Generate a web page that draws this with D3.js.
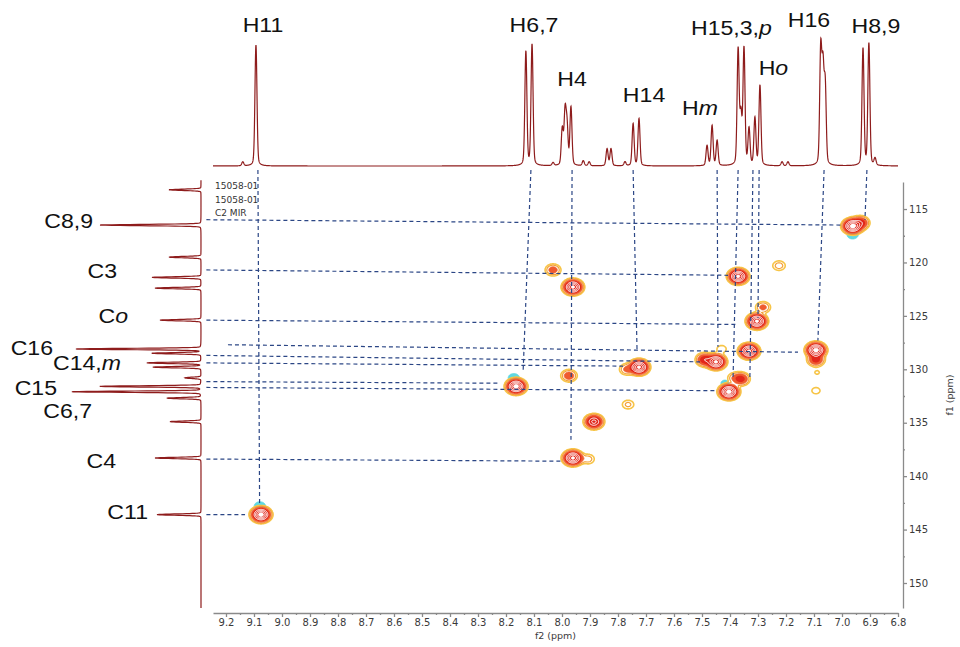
<!DOCTYPE html>
<html>
<head>
<meta charset="utf-8">
<script src="https://cdn.jsdelivr.net/npm/d3@7"></script>
<style>
    body { margin: 0; background: white; }
</style>
</head>
<body>
<svg id="chart" width="960" height="647"></svg>
<script>
// 1H 谱峰 [ppm, 高度]
const protonPeaks = [
    [9.140, 4], [9.093, 121],
    [8.129, 114], [8.107, 121], [8.032, 3],
    [7.999, 36], [7.989, 52], [7.982, 38], [7.968, 58],
    [7.924, 5], [7.903, 4], [7.839, 17], [7.825, 17], [7.775, 4],
    [7.746, 42], [7.725, 47],
    [7.482, 20], [7.464, 40], [7.446, 25],
    [7.371, 115], [7.361, 48], [7.350, 116], [7.332, 36], [7.311, 47], [7.293, 80],
    [7.214, 4], [7.193, 4],
    [7.076, 114], [7.068, 92], [7.060, 78],
    [6.925, 117], [6.904, 122], [6.882, 7]
];
// 13C 谱峰 [ppm, 高度]
const carbonPeaks = [
    [113.2, 32], [116.5, 101], [119.5, 32], [121.4, 49], [122.4, 46], [125.4, 41],
    [128.1, 125], [128.5, 49], [129.4, 54], [129.8, 48], [130.8, 16], [131.6, 101],
    [132.1, 129], [132.7, 34], [134.9, 31], [138.3, 46], [143.6, 44]
];
// HSQC 交叉峰 [f2 ppm, f1 ppm, 强度]
const crossPeaks = [
    [9.075, 143.6, 60], [6.962, 116.6, 60], [6.935, 116.3, 15],
    [7.961, 122.3, 55], [8.032, 120.7, 6], [7.371, 121.3, 55], [7.225, 120.3, 3],
    [7.282, 124.2, 5], [7.304, 125.5, 55], [7.332, 128.3, 55],
    [7.093, 128.2, 60], [7.093, 129.1, 12], [7.450, 129.3, 55], [7.490, 129.1, 15],
    [7.430, 128.1, 1.8], [7.725, 129.8, 55], [7.768, 130.0, 5], [7.975, 130.6, 7],
    [8.164, 131.6, 60], [7.361, 130.9, 12], [7.385, 130.8, 3], [7.404, 132.1, 60],
    [7.764, 133.3, 2.5], [7.886, 134.9, 30], [7.961, 138.3, 55], [7.907, 138.4, 3],
    [7.089, 130.3, 1.15], [7.093, 132.0, 1.6]
];
// 负相位小峰 (青色)
const phaseBlips = [
    [9.079, 142.8, 2.5], [6.962, 117.4, 2.5], [8.172, 130.8, 2.5], [7.418, 131.3, 1.6]
];
// 水平虚线 [左端 f1, 左端 f2, 右端 f1, 右端 f2]
const hGuides = [
    [116.0, 9.27, 116.5, 7.000], [120.7, 9.27, 121.2, 7.407], [125.4, 9.27, 125.8, 7.380],
    [127.7, 9.193, 128.4, 7.157], [128.7, 9.27, 129.3, 7.507], [129.4, 9.27, 129.7, 7.782],
    [131.15, 9.27, 131.3, 8.229], [131.7, 9.27, 132.0, 7.446], [138.4, 9.27, 138.6, 7.996],
    [143.6, 9.27, 143.6, 9.132]
];
// 垂直虚线 [顶端 f2, 底端 f2, 底端 f1]
const vGuides = [
    [9.086, 9.080, 142.7], [8.111, 8.139, 130.3], [7.964, 7.968, 136.6], [7.746, 7.732, 128.2],
    [7.446, 7.443, 127.9], [7.371, 7.389, 130.7], [7.318, 7.329, 130.8], [7.296, 7.300, 125.2],
    [7.064, 7.086, 127.3], [6.911, 6.918, 116.0]
];
// 标注: [文字 (* 之后为斜体), ppm, 高度]
const protonLabels = [
    ["H11", 9.068, 134], ["H6,7", 8.100, 134], ["H4", 7.964, 80], ["H14", 7.707, 64],
    ["H*m", 7.507, 51], ["H15,3,*p", 7.395, 131], ["H*o", 7.245, 91], ["H16", 7.118, 139],
    ["H8,9", 6.879, 133]
];
const carbonLabels = [
    ["C8,9", 116.78, 108], ["C3", 121.46, 84], ["C*o", 125.67, 73], ["C16", 128.66, 148],
    ["C14,*m", 130.07, 80], ["C15", 132.4, 144], ["C6,7", 134.56, 109], ["C4", 139.24, 85],
    ["C11", 144.0, 53]
];
const xTicks = [9.2, 9.1, 9.0, 8.9, 8.8, 8.7, 8.6, 8.5, 8.4, 8.3, 8.2, 8.1, 8.0, 7.9, 7.8,
    7.7, 7.6, 7.5, 7.4, 7.3, 7.2, 7.1, 7.0, 6.9, 6.8];
const yTicks = [115, 120, 125, 130, 135, 140, 145, 150];
const sampleInfo = ["15058-01", "15058-01", "C2 MIR"];

window.addEventListener("load", main);

function shape(d, sigma, gamma, frac)
{
    return (1 - frac) * Math.exp(-d * d / (2 * sigma * sigma)) + frac / (1 + (d / gamma) * (d / gamma));
}

function main()
{
    const svg = d3.select("svg#chart");
    const x = d3.scaleLinear().domain([9.2464, 6.8]).range([213, 898]);
    const y = d3.scaleLinear().domain([112.47, 152.34]).range([182, 608]);
    const yTop = d3.scaleLinear().domain([0, 128]).range([166, 38]);
    const xLeft = d3.scaleLinear().domain([0, 130]).range([201, 71]);
    const specColor = "#8e1c1c";
    const axisColor = "#8a8a8a";

    // 坐标轴
    svg.append("g").attr("transform", "translate(0,613)")
        .call(d3.axisBottom(x).tickValues(xTicks).tickSize(4).tickSizeOuter(0).tickPadding(2)
            .tickFormat(d3.format(".1f")));
    const xMinor = d3.pairs(xTicks).map(p => (p[0] + p[1]) / 2);
    svg.append("g").attr("transform", "translate(0,613)")
        .call(d3.axisBottom(x).tickValues(xMinor).tickSize(2).tickFormat(""))
        .select(".domain").remove();
    svg.append("g").attr("transform", "translate(903,0)")
        .call(d3.axisRight(y).tickValues(yTicks).tickSize(4).tickSizeOuter(0).tickPadding(2));
    const yMinor = d3.pairs(yTicks).map(p => (p[0] + p[1]) / 2);
    svg.append("g").attr("transform", "translate(903,0)")
        .call(d3.axisRight(y).tickValues(yMinor).tickSize(2).tickFormat(""))
        .select(".domain").remove();
    svg.selectAll(".domain, .tick line").attr("stroke", axisColor).attr("stroke-width", 1.3);
    svg.selectAll(".tick text").attr("fill", "#3a3a3a").attr("font-family", "DejaVu Sans")
        .attr("font-size", 10);

    svg.append("text").text("f2 (ppm)")
        .attr("x", d3.mean(x.range())).attr("y", 639)
        .attr("text-anchor", "middle").attr("font-family", "DejaVu Sans").attr("font-size", 9.5)
        .attr("fill", "#3a3a3a");
    svg.append("text").text("f1 (ppm)")
        .attr("transform", `translate(953,${d3.mean(y.range())}) rotate(-90)`)
        .attr("text-anchor", "middle").attr("font-family", "DejaVu Sans").attr("font-size", 9.5)
        .attr("fill", "#3a3a3a");

    // 顶部 1H 谱
    const hGrid = d3.range(x.domain()[0], 6.7995, -0.0005);
    const hData = hGrid.map(p => [p, d3.sum(protonPeaks, d => d[1] * shape(p - d[0], 0.0035, 0.006, 0.15))]);
    svg.append("path").datum(hData)
        .attr("d", d3.line().x(d => x(d[0])).y(d => yTop(d[1])))
        .attr("fill", "none").attr("stroke", specColor).attr("stroke-width", 1.2);

    // 左侧 13C 谱
    const cGrid = d3.range(112.3, y.domain()[1], 0.01);
    const cData = cGrid.map(c => [c, d3.sum(carbonPeaks, d => d[1] * shape(c - d[0], 0.06, 0.08, 0.06))]);
    svg.append("path").datum(cData)
        .attr("d", d3.line().x(d => xLeft(d[1])).y(d => y(d[0])))
        .attr("fill", "none").attr("stroke", specColor).attr("stroke-width", 1.2);

    // 二维等高线
    const gx0 = 206, gy0 = 182, nx = 694, ny = 428;
    const sigH = 0.015, sigC = 0.3;
    const hs = d3.range(nx).map(i => x.invert(gx0 + i + 0.5));
    const cs = d3.range(ny).map(j => y.invert(gy0 + j + 0.5));
    function grid(peaks)
    {
        const v = new Float64Array(nx * ny);
        peaks.forEach(([h, c, a]) => {
            for (let j = 0; j < ny; j++)
            {
                const dc = (cs[j] - c) / sigC;
                if (Math.abs(dc) > 5) continue;
                const ec = a * Math.exp(-dc * dc / 2);
                for (let i = 0; i < nx; i++)
                {
                    const dh = (hs[i] - h) / sigH;
                    if (Math.abs(dh) > 5) continue;
                    v[j * nx + i] += ec * Math.exp(-dh * dh / 2);
                }
            }
        });
        return v;
    }
    const plot = svg.append("g").attr("transform", `translate(${gx0},${gy0})`);
    const path = d3.geoPath();

    const neg = d3.contours().size([nx, ny]).thresholds([1])(grid(phaseBlips));
    plot.selectAll("path.neg").data(neg).join("path").attr("class", "neg")
        .attr("d", path).attr("fill", "#5fd8e2").attr("stroke", "#5fd8e2").attr("stroke-width", 0.8);

    const levels = [1, 2, 3.6, 8, 16, 26, 38, 50];
    const styles = [
        {fill: "none", stroke: "#f7c548", w: 1.6},
        {fill: "none", stroke: "#f4a23c", w: 1.2},
        {fill: "#ef5a30", stroke: "#ee6a36", w: 0.8},
        {fill: "#e2271b", stroke: "none", w: 0},
        {fill: "none", stroke: "#ffffff", w: 1},
        {fill: "none", stroke: "#ffffff", w: 1},
        {fill: "none", stroke: "#ffffff", w: 1},
        {fill: "#ffffff", stroke: "#ffffff", w: 0.8}
    ];
    const pos = d3.contours().size([nx, ny]).thresholds(levels)(grid(crossPeaks));
    plot.selectAll("path.pos").data(pos).join("path").attr("class", "pos")
        .attr("d", path)
        .attr("fill", (d, i) => styles[i].fill)
        .attr("stroke", (d, i) => styles[i].stroke)
        .attr("stroke-width", (d, i) => styles[i].w);

    // 虚线
    const guideColor = "#2b4685";
    const topY = yTop(0) + 4;
    svg.selectAll("line.vguide").data(vGuides).join("line").attr("class", "vguide")
        .attr("x1", d => x(d[0])).attr("y1", topY)
        .attr("x2", d => x(d[1])).attr("y2", d => y(d[2]))
        .attr("stroke", guideColor).attr("stroke-width", 1.2).attr("stroke-dasharray", "4,3");
    svg.selectAll("line.hguide").data(hGuides).join("line").attr("class", "hguide")
        .attr("x1", d => x(d[1])).attr("y1", d => y(d[0]))
        .attr("x2", d => x(d[3])).attr("y2", d => y(d[2]))
        .attr("stroke", guideColor).attr("stroke-width", 1.2).attr("stroke-dasharray", "4,3");

    // 样品信息
    svg.selectAll("text.info").data(sampleInfo).join("text").attr("class", "info")
        .text(d => d)
        .attr("x", 215).attr("y", (d, i) => 189 + i * 13.5)
        .attr("font-family", "DejaVu Sans").attr("font-size", 9).attr("fill", "#333");

    // 峰标注
    function addLabel(sel)
    {
        sel.each(function(d) {
            const parts = d[0].split("*");
            const t = d3.select(this);
            t.append("tspan").text(parts[0]);
            if (parts.length > 1) t.append("tspan").attr("font-style", "italic").text(parts[1]);
        });
    }
    svg.selectAll("text.hlabel").data(protonLabels).join("text").attr("class", "hlabel")
        .attr("transform", d => `translate(${x(d[1])},${yTop(d[2])}) scale(1.1,1)`)
        .attr("text-anchor", "middle").attr("font-family", "Liberation Sans, Arial")
        .attr("font-size", 21).attr("fill", "#111")
        .call(addLabel);
    svg.selectAll("text.clabel").data(carbonLabels).join("text").attr("class", "clabel")
        .attr("transform", d => `translate(${xLeft(d[2])},${y(d[1])}) scale(1.1,1)`)
        .attr("text-anchor", "end").attr("font-family", "Liberation Sans, Arial")
        .attr("font-size", 21).attr("fill", "#111")
        .call(addLabel);
}
</script>
</body>
</html>
